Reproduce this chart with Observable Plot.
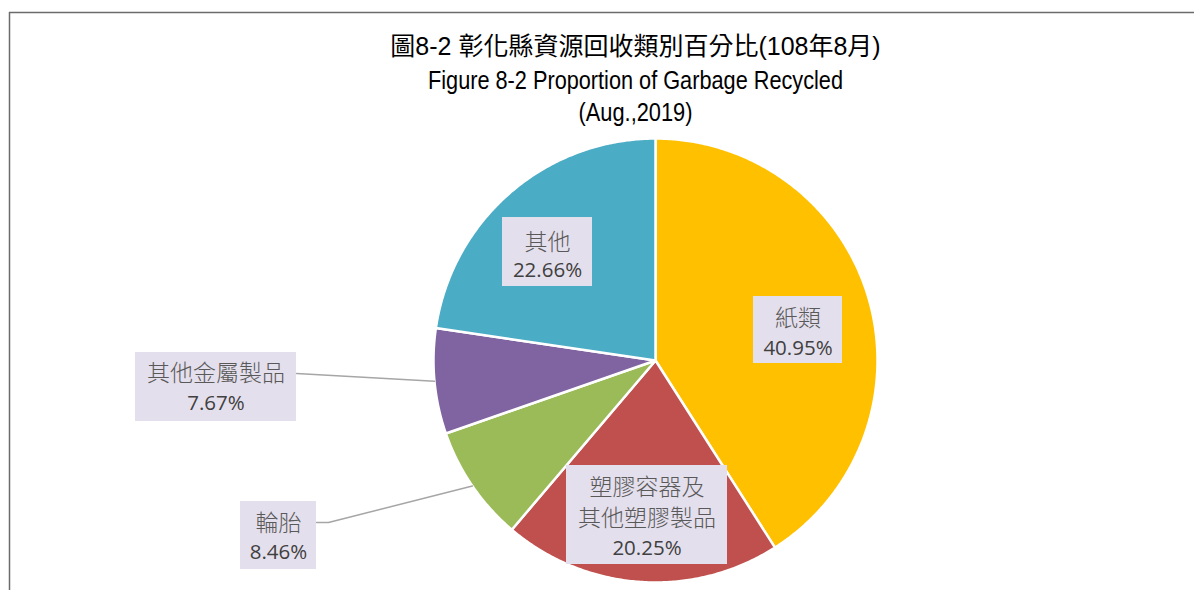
<!DOCTYPE html>
<html><head><meta charset="utf-8">
<script src="https://cdn.jsdelivr.net/npm/d3@7"></script>
<script src="https://cdn.jsdelivr.net/npm/@observablehq/plot@0.6"></script>
<style>html,body{margin:0;padding:0;background:#fff;overflow:hidden}</style>
</head><body><div id="chart"></div>
<script>
// ---- data ----
const categories = ["紙類", "塑膠容器及\n其他塑膠製品", "輪胎", "其他金屬製品", "其他"];
const values = [40.95, 20.25, 8.46, 7.67, 22.66];
const colors = ["#FFC000", "#C0504D", "#9BBB59", "#8064A2", "#4BACC6"];
const titleLines = ["圖8-2 彰化縣資源回收類別百分比(108年8月)", "Figure 8-2 Proportion of Garbage Recycled", "(Aug.,2019)"];

// ---- layout ----
const W = 1194, H = 590, CX = 655, CY = 360, R = 222;
const labelLayout = [
  {box: [753, 842, 296, 363], lines: [318], pct: 348},
  {box: [566, 727, 465, 564], lines: [487, 518], pct: 548},
  {box: [240, 316, 501, 569], lines: [523], pct: 552, leader: "elbow"},
  {box: [135, 296, 352, 421], lines: [373], pct: 403, leader: "straight"},
  {box: [502, 592, 217, 286], lines: [242], pct: 270}
];
const titleY = [46, 80, 112];
const titleLen = [null, 415, 114];

const rows = categories.map((c, i) => ({category: c, value: values[i], color: colors[i]}));
const arcs = d3.pie().sort(null).value(d => d.value)(rows);
const polar = (a, r) => [CX + r * Math.sin(a), CY - r * Math.cos(a)];

function slicePts(a0, a1) {
  const pts = [[CX, CY]];
  const n = Math.max(2, Math.ceil((a1 - a0) / (Math.PI / 360)));
  for (let k = 0; k <= n; k++) pts.push(polar(a0 + (a1 - a0) * k / n, R));
  pts.push([CX, CY]);
  return pts;
}

const marks = [];
// frame
marks.push(Plot.ruleY([12], {x1: 9, x2: W, stroke: "#6b6b6b", strokeWidth: 1.5}));
marks.push(Plot.ruleX([9], {y1: 12, y2: H, stroke: "#6b6b6b", strokeWidth: 1.5}));

// slices
arcs.forEach(a => {
  marks.push(Plot.line(slicePts(a.startAngle, a.endAngle), {
    x: d => d[0], y: d => d[1], fill: a.data.color, stroke: "#fff", strokeWidth: 2.5,
    strokeLinejoin: "round", curve: "linear"
  }));
});

// leaders
const leaders = [];
arcs.forEach((a, i) => {
  const L = labelLayout[i];
  if (!L.leader) return;
  const mid = (a.startAngle + a.endAngle) / 2;
  const end = polar(mid, R);
  const yl = L.lines[0] + (L.leader === "elbow" ? -1 : 0);
  const pts = L.leader === "elbow"
    ? [[L.box[1], yl], [L.box[1] + 12, yl], end]
    : [[L.box[1], yl], end];
  pts.forEach(p => leaders.push({i, x: p[0], y: p[1]}));
});
marks.push(Plot.line(leaders, {x: "x", y: "y", z: "i", stroke: "#A6A6A6", strokeWidth: 1.5}));

// label boxes
const boxes = labelLayout.map(L => ({x1: L.box[0], x2: L.box[1], y1: L.box[2], y2: L.box[3]}));
marks.push(Plot.rect(boxes, {x1: "x1", x2: "x2", y1: "y1", y2: "y2", fill: "#E4DFEC"}));

// label texts
const nameLines = [];
const pctTexts = [];
arcs.forEach((a, i) => {
  const L = labelLayout[i];
  const cx = (L.box[0] + L.box[1]) / 2;
  a.data.category.split("\n").forEach((s, k) => nameLines.push({x: cx, y: L.lines[k], text: s}));
  pctTexts.push({x: cx, y: L.pct, text: a.data.value.toFixed(2) + "%"});
});
marks.push(Plot.text(nameLines, {x: "x", y: "y", text: "text", fill: "#595959", fontSize: 23,
  fontFamily: "'Noto Sans CJK TC', sans-serif", fontWeight: 300}));
marks.push(Plot.text(pctTexts, {x: "x", y: "y", text: "text", fill: "#404040", fontSize: 20.5,
  fontFamily: "'Open Sans', sans-serif"}));

// title
marks.push(Plot.text(titleLines.map((t, k) => ({x: 635, y: titleY[k], text: t})), {
  x: "x", y: "y", text: "text", fill: "#000", fontSize: 25,
  fontFamily: "'Liberation Sans', Arial, 'Noto Sans CJK TC', sans-serif"
}));

const chart = Plot.plot({
  width: W, height: H,
  margin: 0,
  x: {domain: [0, W], range: [0, W], axis: null},
  y: {domain: [0, H], range: [0, H], axis: null},
  style: {background: "#fff", overflow: "visible"},
  marks
});
document.getElementById("chart").appendChild(chart);
// condense the Latin title lines (narrow face is not installed)
chart.querySelectorAll("text").forEach(t => {
  const k = titleLines.indexOf(t.textContent);
  if (k > 0 && titleLen[k]) {
    t.setAttribute("textLength", titleLen[k]);
    t.setAttribute("lengthAdjust", "spacingAndGlyphs");
  }
});
</script>
</body></html>
